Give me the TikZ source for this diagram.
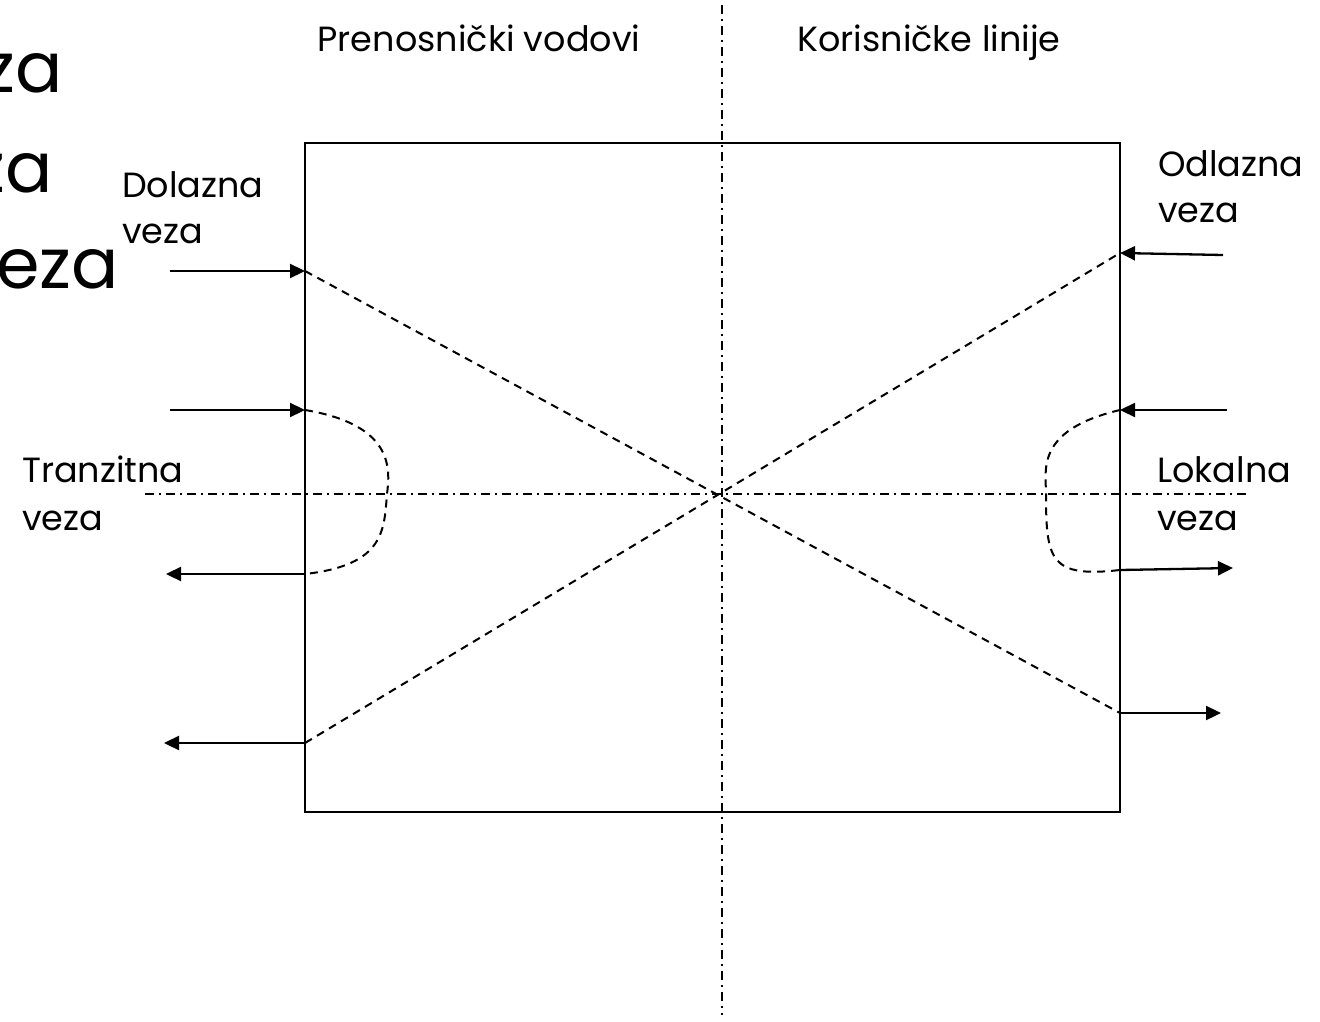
\documentclass[tikz,border=0pt]{standalone}
\usepackage{fontspec}
\setmainfont{Poppins}
\usetikzlibrary{arrows.meta}
\begin{document}
\begin{tikzpicture}[x=1pt,y=-1pt,
  lbl/.style={font=\fontsize{35}{38}\selectfont, inner sep=0pt},
  big/.style={font=\fontsize{70}{72}\selectfont, inner sep=0pt},
  conn/.style={line width=2.3pt, -{Triangle[length=15pt,width=14pt]}},
  frame/.style={line width=2.3pt},
  dsh/.style={line width=2pt, dash pattern=on 8pt off 6pt},
  axis/.style={line width=2pt, dash pattern=on 9pt off 5pt on 2pt off 5pt}]
\useasboundingbox (0,0) rectangle (1320,1022);
\clip (0,0) rectangle (1320,1022);
% big clipped text at top left
\node[big, anchor=base east] (b1) at (63,93) {veza};
\node[big, anchor=base east] (b2) at (53,192) {veza};
\node[big, anchor=base east] (b3) at (119,288) {veza};
% axes
\coordinate (vt) at (722,5);
\coordinate (vb) at (722,1015);
\coordinate (hl) at (145,494);
\coordinate (hr) at (1250,494);
\draw[axis] (vt) -- (vb);
\draw[axis] (hl) -- (hr);
% box
\node[frame, draw, minimum width=815pt, minimum height=669pt, inner sep=0pt] (box) at (712.5,477.5) {};
% box side points
\coordinate (L1) at (305,271);
\coordinate (L2) at (305,410);
\coordinate (L3) at (305,574);
\coordinate (L4) at (305,743);
\coordinate (R1) at (1120,253);
\coordinate (R2) at (1120,410);
\coordinate (R3) at (1120,570);
\coordinate (R4) at (1120,713);
% outer ends
\coordinate (l1) at (170,271);
\coordinate (l2) at (170,410);
\coordinate (l3) at (166,574);
\coordinate (l4) at (164,743);
\coordinate (r1) at (1223,255);
\coordinate (r2) at (1227,410);
\coordinate (r3) at (1233,568);
\coordinate (r4) at (1221,713);
% arrows
\draw[conn] (l1) -- (L1);
\draw[conn] (l2) -- (L2);
\draw[conn] (L3) -- (l3);
\draw[conn] (L4) -- (l4);
\draw[conn] (r1) -- (R1);
\draw[conn] (r2) -- (R2);
\draw[conn] (R3) -- (r3);
\draw[conn] (R4) -- (r4);
% dashed paths
\draw[dsh] (L1) -- (R4);
\draw[dsh] (L4) -- (R1);
\draw[dsh] (L2) .. controls (395,425) and (390,470) .. (387,494)
  .. controls (384,530) and (385,565) .. (L3);
\draw[dsh] (R2) .. controls (1035,430) and (1046,470) .. (1046,494)
  .. controls (1046,560) and (1050,578) .. (R3);
% labels
\node[lbl, anchor=base] (t1) at (479,52) {Prenosnički vodovi};
\node[lbl, anchor=base] (t2) at (929,52) {Korisničke linije};
\node[lbl, anchor=base west] (d1) at (122,197) {Dolazna};
\node[lbl, anchor=base west] (d2) at (122,243) {veza};
\node[lbl, anchor=base west] (o1) at (1158,176) {Odlazna};
\node[lbl, anchor=base west] (o2) at (1158,222) {veza};
\node[lbl, anchor=base west] (tr1) at (22,482) {Tranzitna};
\node[lbl, anchor=base west] (tr2) at (22,530) {veza};
\node[lbl, anchor=base west] (lo1) at (1157,482) {Lokalna};
\node[lbl, anchor=base west] (lo2) at (1157,530) {veza};
\end{tikzpicture}
\end{document}
